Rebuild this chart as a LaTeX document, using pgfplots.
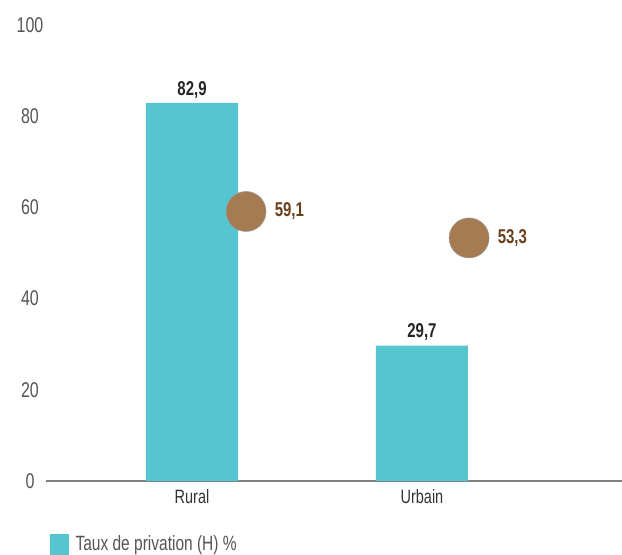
\documentclass[border=0pt]{standalone}
\usepackage{fontspec}
\setmainfont{Liberation Sans}[FakeStretch=0.75]
\usepackage{pgfplots}
\pgfplotsset{compat=1.18}
\definecolor{barteal}{HTML}{55C5D0}
\definecolor{dotbrown}{HTML}{A67B52}
\definecolor{lblbrown}{HTML}{6B3F1C}
\definecolor{tickgray}{HTML}{555555}
\begin{document}
\begin{tikzpicture}
\begin{axis}[
  scale only axis, width=432pt, height=342pt,
  xmin=-0.635, xmax=1.87, ymin=0, ymax=100,
  axis x line=bottom, axis y line=left,
  x axis line style={-, draw=gray, line width=0.8pt},
  y axis line style={draw=none},
  major tick length=0pt,
  xtick={0,1}, xticklabels={Rural,Urbain},
  ytick={0,20,40,60,80,100},
  /pgf/number format/assume math mode=true,
  yticklabel style={font=\fontsize{16}{18}\selectfont, text=tickgray, anchor=center, xshift=-12pt},
  xticklabel style={font=\fontsize{14.5}{16}\selectfont, text=black!80, yshift=-3pt},
  legend style={at={(rel axis cs:0,0)}, anchor=north west, xshift=2pt, yshift=-38pt, draw=none, font=\fontsize{15.5}{17}\selectfont\color{tickgray}, inner sep=1pt},
  legend cell align=left,
  clip=false,
]
\addplot[ybar, bar width=69pt, fill=barteal, draw=none,
  nodes near coords,
  nodes near coords style={font=\bfseries\fontsize{15}{17}\selectfont, text=black!85, /pgf/number format/.cd, use comma, fixed, fixed zerofill, precision=1, assume math mode=true},
  legend image code/.code={\fill[barteal] (0pt,-9pt) rectangle (14pt,8pt);}
] coordinates {(0,82.9) (1,29.7)};
\addlegendentry{\hspace{3pt}Taux de privation (H) \%}
\addplot[only marks, mark=*, mark size=15pt, mark options={fill=dotbrown, draw=gray!80, line width=0.4pt},
  nodes near coords, nodes near coords align=horizontal,
  nodes near coords style={anchor=west, xshift=18pt, font=\bfseries\fontsize{15}{17}\selectfont, text=lblbrown, /pgf/number format/.cd, use comma, fixed, fixed zerofill, precision=1, assume math mode=true},
  forget plot
] coordinates {(0.235,59.1) (1.205,53.3)};
\coordinate (o) at (rel axis cs:0,0);
\coordinate (t) at (rel axis cs:1,1);
\end{axis}
\pgfresetboundingbox
\path[use as bounding box] ([xshift=-34.5pt, yshift=-55.5pt]o) rectangle ([yshift=18.75pt]t);
\end{tikzpicture}
\end{document}
